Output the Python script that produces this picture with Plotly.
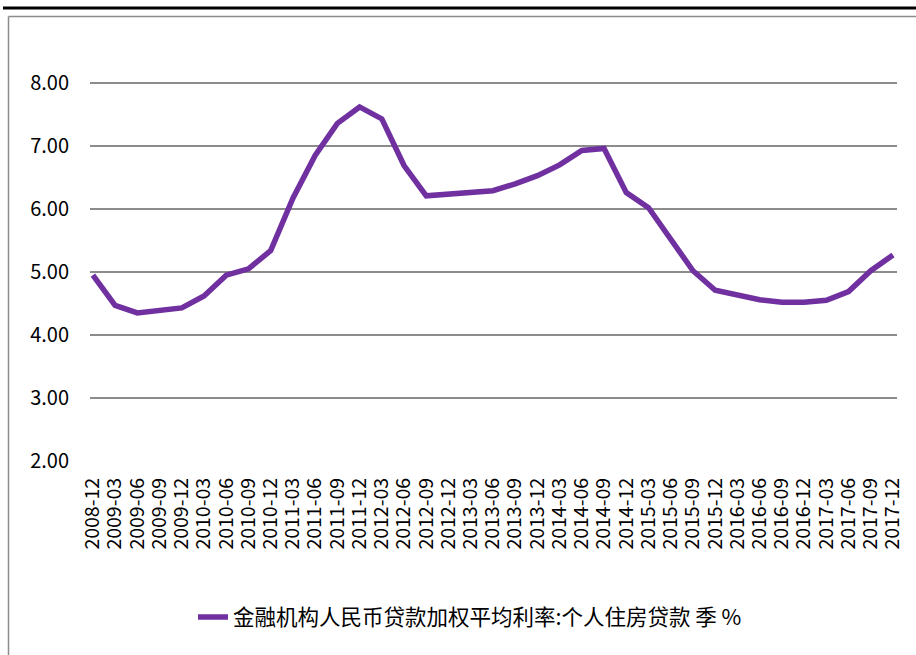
import plotly.graph_objects as go

categories = [
    "2008-12", "2009-03", "2009-06", "2009-09", "2009-12", "2010-03", "2010-06",
    "2010-09", "2010-12", "2011-03", "2011-06", "2011-09", "2011-12", "2012-03",
    "2012-06", "2012-09", "2012-12", "2013-03", "2013-06", "2013-09", "2013-12",
    "2014-03", "2014-06", "2014-09", "2014-12", "2015-03", "2015-06", "2015-09",
    "2015-12", "2016-03", "2016-06", "2016-09", "2016-12", "2017-03", "2017-06",
    "2017-09", "2017-12",
]
rates = [
    4.95, 4.47, 4.35, 4.39, 4.43, 4.62, 4.95,
    5.05, 5.34, 6.17, 6.85, 7.36, 7.62, 7.43,
    6.69, 6.21, 6.23, 6.27, 6.29, 6.40, 6.53,
    6.70, 6.93, 6.96, 6.26, 6.02, 5.52, 5.02,
    4.71, 4.64, 4.56, 4.52, 4.52, 4.55, 4.69,
    5.02, 5.27,
]
series_name = "金融机构人民币贷款加权平均利率:个人住房贷款 季 %"
y_ticks = [2, 3, 4, 5, 6, 7, 8]

FONT = "Noto Sans CJK SC"

fig = go.Figure()
fig.add_trace(go.Scatter(
    x=list(range(len(categories))), y=rates, mode="lines", name=series_name,
    line=dict(color="#7030A0", width=5.5),
))

L, R, T, B = 90, 19, 20, 194
W, H = 916, 655
pw, ph = W - L - R, H - T - B

def px_x(p):
    return (p - L) / pw

def px_y(p):
    return (H - B - p) / ph

shapes = [
    dict(type="line", xref="paper", yref="paper", x0=px_x(3), x1=px_x(930),
         y0=px_y(8), y1=px_y(8), line=dict(color="#000000", width=3)),
    dict(type="line", xref="paper", yref="paper", x0=px_x(8.5), x1=px_x(930),
         y0=px_y(16.5), y1=px_y(16.5), line=dict(color="#8c8c8c", width=1.5)),
    dict(type="line", xref="paper", yref="paper", x0=px_x(8.5), x1=px_x(8.5),
         y0=px_y(16.5), y1=px_y(680), line=dict(color="#8c8c8c", width=1.5)),
]

fig.update_layout(
    width=W, height=H,
    margin=dict(l=L, r=R, t=T, b=B),
    paper_bgcolor="white", plot_bgcolor="white",
    font=dict(family=FONT, color="#000000"),
    shapes=shapes,
    showlegend=True,
    legend=dict(orientation="h", x=px_x(470), xanchor="center", y=px_y(617), yanchor="middle",
                font=dict(size=21.5, family=FONT, color="#000000"), bgcolor="rgba(0,0,0,0)"),
    xaxis=dict(
        range=[-0.13, len(categories) - 1 + 0.18],
        tickmode="array", tickvals=list(range(len(categories))), ticktext=categories,
        tickangle=-90, tickfont=dict(size=19.5, family=FONT, color="#000000"),
        showgrid=False, zeroline=False, showline=False, ticks="",
        ticklabelstandoff=12,
    ),
    yaxis=dict(
        range=[2, 9], tickmode="array", tickvals=y_ticks,
        ticktext=[f"{v:.2f}" for v in y_ticks],
        tickfont=dict(size=20, family=FONT, color="#000000"),
        showgrid=True, gridcolor="#8c8c8c", gridwidth=2,
        zeroline=False, showline=False, ticks="",
        ticklabelstandoff=20,
    ),
)

fig.write_html("out.html")
